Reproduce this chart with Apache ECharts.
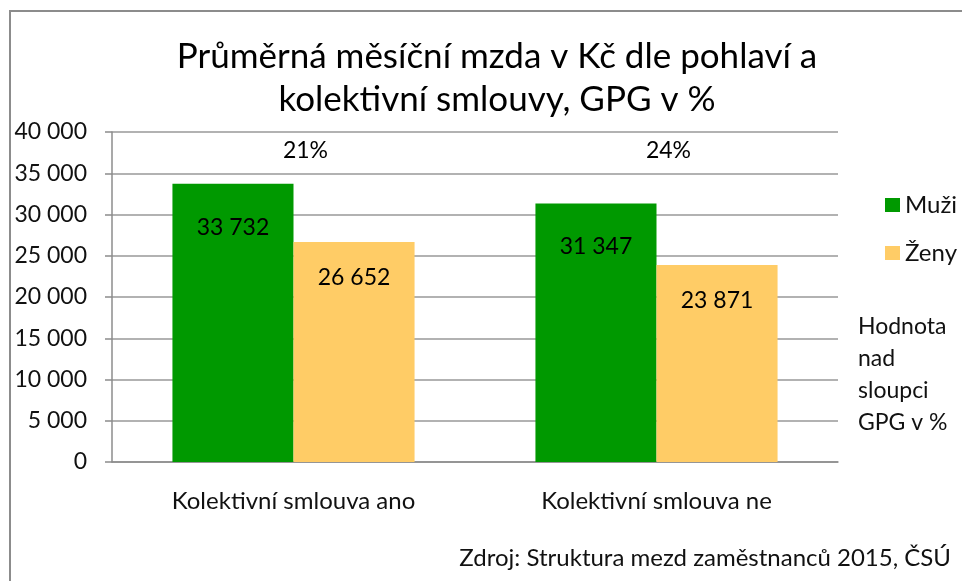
<!DOCTYPE html>
<html>
<head>
<meta charset="utf-8">
<script src="https://cdn.jsdelivr.net/npm/echarts@6/dist/echarts.min.js"></script>
<style>
  html, body { margin: 0; padding: 0; background: #fff; }
  #chart { width: 962px; height: 581px; }
</style>
</head>
<body>
<div id="chart"></div>
<script>
const categories = ['Kolektivní smlouva ano', 'Kolektivní smlouva ne']
const muzi = [33732, 31347]
const zeny = [26652, 23871]
const gpg = ['21%', '24%']
const yTicks = [0, 5000, 10000, 15000, 20000, 25000, 30000, 35000, 40000]

const FONT = 'Lato'
const GPG_LABEL_Y = 37800 // výška popisku GPG nad sloupci

// 33732 -> "33 732"
const fmt = (v) => String(v).replace(/\B(?=(\d{3})+(?!\d))/g, ' ')

const chart = echarts.init(document.getElementById('chart'))

chart.setOption({
  animation: false,
  textStyle: { fontFamily: FONT, color: '#000' },
  title: {
    text: 'Průměrná měsíční mzda v Kč dle pohlaví a\nkolektivní smlouvy, GPG v %',
    left: 492,
    top: 30,
    textAlign: 'center',
    textStyle: { fontFamily: FONT, fontSize: 35, fontWeight: 'normal', color: '#000', lineHeight: 43 },
  },
  legend: {
    orient: 'vertical',
    left: 880,
    top: 188,
    itemWidth: 15,
    itemHeight: 14,
    itemGap: 24,
    icon: 'rect',
    textStyle: { fontFamily: FONT, fontSize: 24, color: '#111' },
    data: ['Muži', 'Ženy'],
  },
  grid: { left: 112, right: 124, top: 132, bottom: 119 },
  xAxis: {
    type: 'category',
    data: categories,
    axisLine: { lineStyle: { color: '#8c8c8c', width: 1.5 } },
    axisTick: { length: 8, lineStyle: { color: '#8c8c8c', width: 1.5 } },
    axisLabel: { fontFamily: FONT, fontSize: 24, color: '#111', margin: 27 },
  },
  yAxis: {
    type: 'value',
    min: yTicks[0],
    max: yTicks[yTicks.length - 1],
    interval: yTicks[1] - yTicks[0],
    axisLine: { show: true, lineStyle: { color: '#8c8c8c', width: 1.5 } },
    axisTick: { show: true, inside: false, length: 7, lineStyle: { color: '#8c8c8c', width: 1.5 } },
    axisLabel: { fontFamily: FONT, fontSize: 23, color: '#111', margin: 25, formatter: fmt },
    splitLine: { lineStyle: { color: '#999', width: 1.5 } },
  },
  series: [
    {
      name: 'Muži',
      type: 'bar',
      data: muzi,
      barGap: '0%',
      barCategoryGap: '33.3%',
      itemStyle: { color: '#009900' },
      label: {
        show: true,
        position: 'insideTop',
        distance: 32,
        fontFamily: FONT,
        fontSize: 23,
        color: '#000',
        formatter: (p) => fmt(p.value),
      },
    },
    {
      name: 'Ženy',
      type: 'bar',
      data: zeny,
      itemStyle: { color: '#ffcc66' },
      label: {
        show: true,
        position: 'insideTop',
        distance: 24,
        fontFamily: FONT,
        fontSize: 23,
        color: '#000',
        formatter: (p) => fmt(p.value),
      },
    },
    {
      name: 'GPG',
      type: 'scatter',
      data: categories.map((c, i) => [i, GPG_LABEL_Y]),
      symbolSize: 0,
      silent: true,
      itemStyle: { opacity: 1 },
      label: {
        show: true,
        position: 'inside',
        offset: [12, 0],
        fontFamily: FONT,
        fontSize: 23,
        color: '#000',
        opacity: 1,
        formatter: (p) => gpg[p.dataIndex],
      },
    },
  ],
  graphic: [
    {
      type: 'rect',
      shape: { x: 10, y: 11, width: 1000, height: 700 },
      style: { fill: 'none', stroke: '#8c8c8c', lineWidth: 2 },
      silent: true,
    },
    {
      type: 'text',
      left: 858,
      top: 311,
      style: {
        text: 'Hodnota\nnad\nsloupci\nGPG v %',
        fontFamily: FONT,
        fontSize: 23,
        lineHeight: 32,
        fill: '#111',
      },
    },
    {
      type: 'text',
      right: 11,
      top: 546,
      style: {
        text: 'Zdroj: Struktura mezd zaměstnanců 2015, ČSÚ',
        fontFamily: FONT,
        fontSize: 24,
        fill: '#111',
      },
    },
  ],
})

window.addEventListener('resize', () => chart.resize())
</script>
</body>
</html>
